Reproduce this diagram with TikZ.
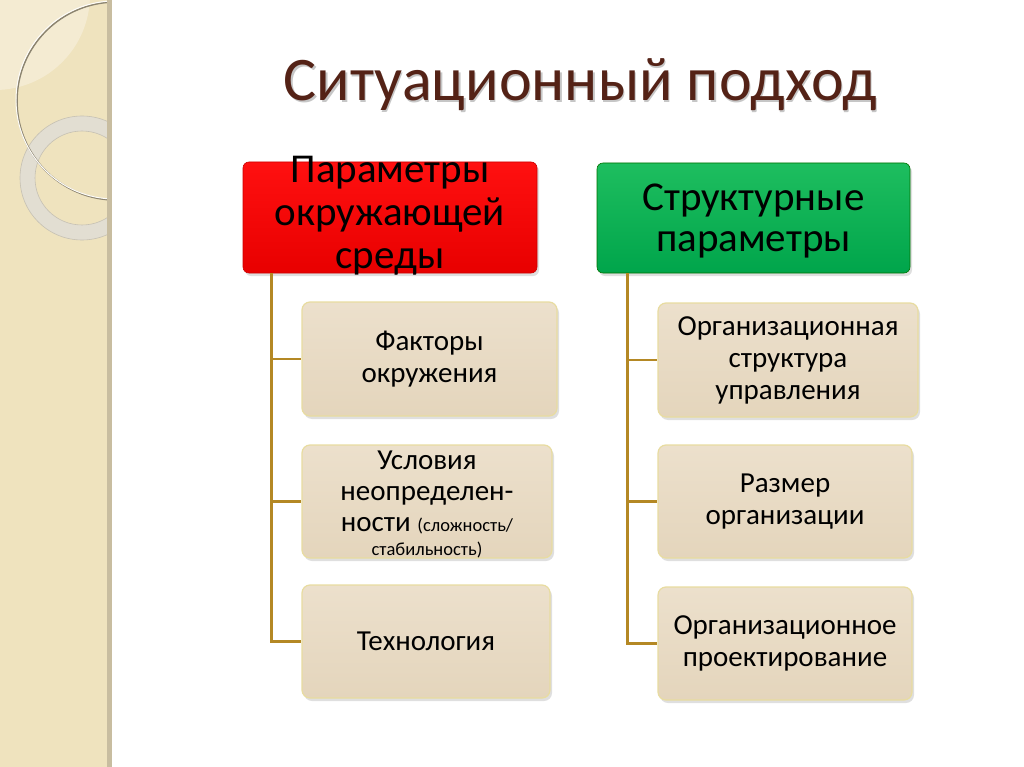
\documentclass[tikz,border=0pt]{standalone}
\usepackage{fontspec}
\setmainfont{Carlito}
\usetikzlibrary{shadows,calc}
\definecolor{panel}{RGB}{239,227,190}
\definecolor{panelstrip}{RGB}{200,189,160}
\definecolor{panellight}{RGB}{244,235,210}
\definecolor{ringc}{RGB}{226,222,210}
\definecolor{titlec}{RGB}{84,34,22}
\definecolor{connc}{RGB}{180,136,36}
\definecolor{beigetop}{RGB}{236,224,204}
\definecolor{beigebot}{RGB}{228,213,188}
\definecolor{beigeedge}{RGB}{232,220,160}
\definecolor{redtop}{RGB}{255,16,16}
\definecolor{redbot}{RGB}{232,0,0}
\definecolor{greentop}{RGB}{30,190,95}
\definecolor{greenbot}{RGB}{0,165,75}
\tikzset{
  hdrbox/.style={rounded corners=6pt, minimum width=#1, inner sep=0pt,
    drop shadow={shadow xshift=2pt, shadow yshift=-3pt, opacity=0.25}},
  subbox/.style={rounded corners=8pt, inner sep=0pt, top color=beigetop, bottom color=beigebot,
    draw=beigeedge, line width=1.2pt, align=center, font=\fontsize{29}{32}\selectfont,
    drop shadow={shadow xshift=2pt, shadow yshift=-3pt, opacity=0.25}},
  hdrtext/.style={align=center, text=black, inner sep=0pt},
  conn/.style={draw=connc, line width=2.6pt}
}
\begin{document}
\begin{tikzpicture}[x=1pt,y=-1pt]
\useasboundingbox (0,0) rectangle (1024,767);
\fill[white] (0,0) rectangle (1024,767);
% left decorative panel
\fill[panel] (0,0) rectangle (108,767);
\begin{scope}
  \clip (0,0) rectangle (107,767);
  \fill[panellight] (-5,-5) circle[radius=95];
  \fill[ringc, even odd rule] (82,178) circle[radius=62] (82,178) circle[radius=47];
  \draw[panelstrip!80!black!60, line width=0.6pt] (82,178) circle[radius=62];
  \draw[panelstrip!80!black!60, line width=0.6pt] (82,178) circle[radius=47];
  \draw[panelstrip!70!black, line width=1.6pt] (116,101) circle[radius=99];
  \draw[white!90!panel, line width=1pt] (115,100) circle[radius=99];
\end{scope}
\fill[panelstrip] (107,0) rectangle (112,767);
% title
\node[anchor=base, font=\fontsize{62}{70}\selectfont, text=gray!45, inner sep=0pt] at (581.5,102.5) {Ситуационный подход};
\node[anchor=base, font=\fontsize{62}{70}\selectfont, text=titlec, inner sep=0pt] (title) at (580,101) {Ситуационный подход};
% header boxes
\node[hdrbox=294pt, minimum height=111pt, top color=redtop, bottom color=redbot, draw=red!80!black, line width=0.6pt] (P) at (390,217.5) {};
\node[hdrtext, font=\fontsize{41}{43}\selectfont] (Pt) at (390,216) {Параметры\\окружающей\\среды};
\node[hdrbox=313pt, minimum height=110pt, top color=greentop, bottom color=greenbot, draw=green!45!black, line width=0.6pt] (S) at (753.5,218) {};
\node[hdrtext, font=\fontsize{41}{41}\selectfont] (St) at (753.5,221) {Структурные\\параметры};
% left sub boxes
\node[subbox, minimum width=255pt, minimum height=114pt] (L1) at (429.5,359) {Факторы\\окружения};
\node[subbox, minimum width=250pt, minimum height=113pt] (L2) at (427,501.5) {};
\node[hdrtext, font=\fontsize{29}{31}\selectfont] (L2t) at (427,504) {Условия\\неопределен-\\ности {\fontsize{18.5}{22}\selectfont(сложность/}\\[-7pt]{\fontsize{18.5}{22}\selectfont стабильность)}};
\node[subbox, minimum width=248pt, minimum height=113pt] (L3) at (426,641.5) {Технология};
% right sub boxes
\node[subbox, minimum width=260pt, minimum height=114pt] (R1) at (788,360) {Организационная\\структура\\управления};
\node[subbox, minimum width=254pt, minimum height=113pt] (R2) at (785,501.5) {Размер\\организации};
\node[subbox, minimum width=254pt, minimum height=113pt] (R3) at (785,643.5) {Организационное\\проектирование};
% connectors
\coordinate (pl) at ([xshift=29pt]P.south west);
\coordinate (sl) at ([xshift=31pt]S.south west);
\draw[conn] (pl) |- (L1.west);
\draw[conn] (pl) |- (L2.west);
\draw[conn] (pl) |- (L3.west);
\draw[conn] (sl) |- (R1.west);
\draw[conn] (sl) |- (R2.west);
\draw[conn] (sl) |- (R3.west);
\end{tikzpicture}
\end{document}
